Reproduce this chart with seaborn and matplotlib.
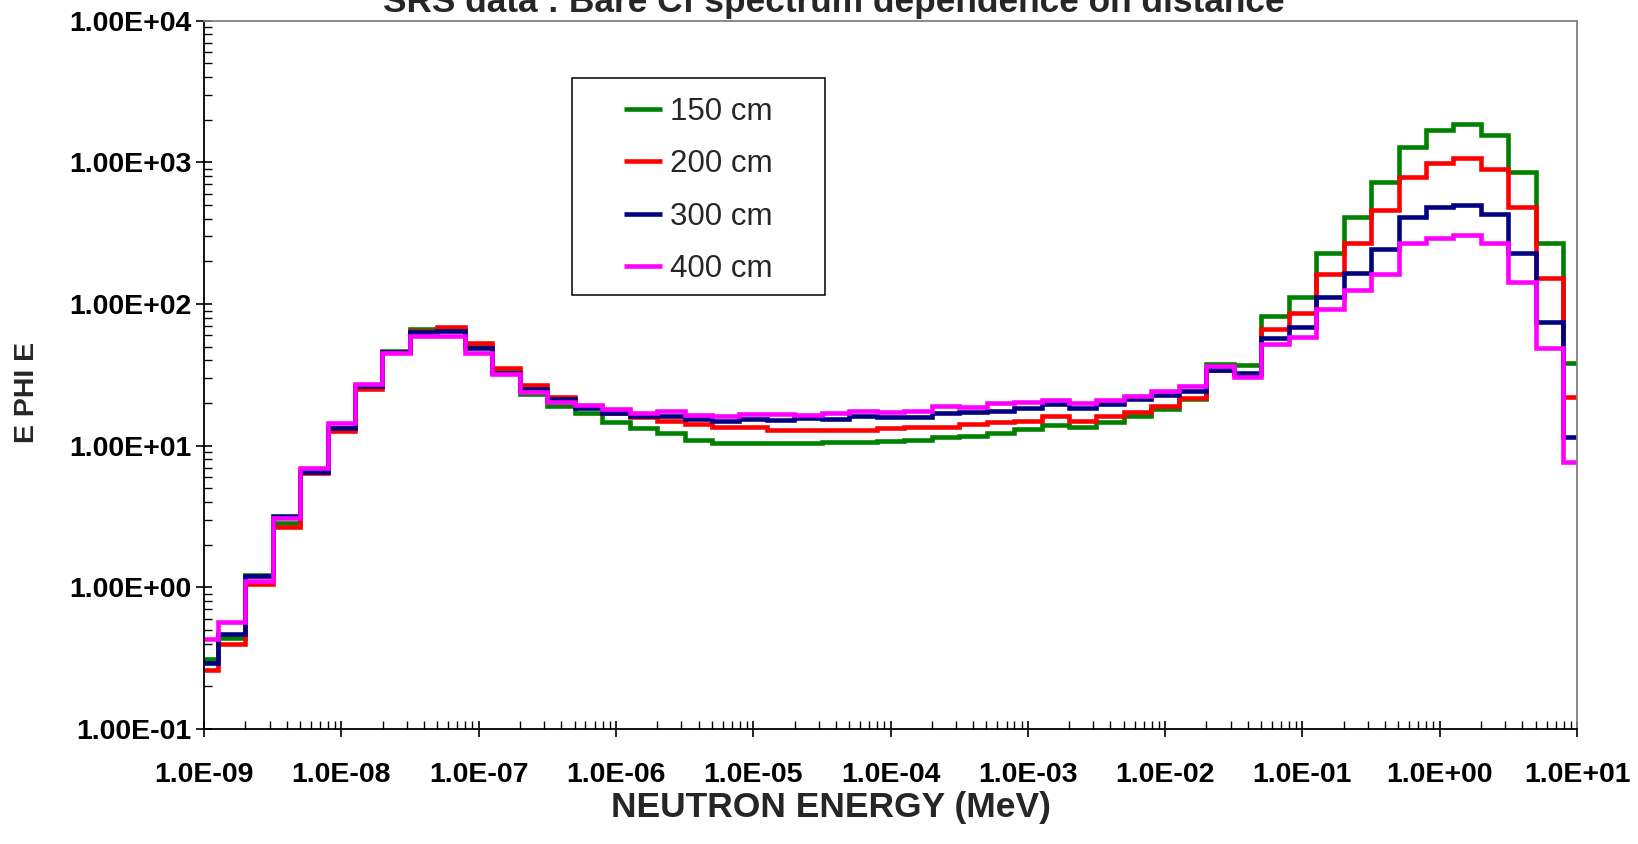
import numpy as np
import pandas as pd
import matplotlib
matplotlib.use("Agg")
import matplotlib.pyplot as plt
import seaborn as sns
from matplotlib.ticker import LogLocator, FuncFormatter, NullFormatter
from matplotlib.patches import Rectangle

# ---------------- data ----------------
distances = ["150 cm", "200 cm", "300 cm", "400 cm"]
colors = ["#008000", "#FF0000", "#000080", "#FF00FF"]

# energy group centres, log10(MeV), groups are 0.2 decade wide
log_energy_centres = np.round(np.arange(-9.0, 1.0001, 0.2), 1)

ephi_150 = [0.31, 0.44, 1.23, 2.83, 6.5, 13.4, 26.5, 46.9, 66.6, 66.0,
            50.6, 33.6, 23.1, 19.1, 16.9, 14.8, 13.3, 12.2, 11.0, 10.4,
            10.4, 10.4, 10.4, 10.7, 10.6, 10.8, 11.0, 11.6, 11.7, 12.2,
            13.1, 14.0, 13.6, 14.8, 16.2, 18.2, 21.3, 37.7, 37.2, 82.2,
            112.6, 231, 409, 730, 1276, 1690, 1863, 1560, 849, 268, 38.5]
ephi_200 = [0.26, 0.40, 1.05, 2.65, 6.4, 12.6, 25.2, 45.5, 65.0, 69.2,
            53.3, 35.3, 26.8, 22.2, 19.0, 17.0, 16.0, 15.0, 14.2, 13.6,
            13.6, 12.9, 12.9, 13.0, 13.0, 13.3, 13.5, 13.5, 14.2, 14.6,
            14.9, 16.3, 15.0, 16.2, 17.3, 19.1, 21.8, 34.0, 32.0, 66.2,
            85.9, 162, 268, 460, 792, 993, 1077, 897, 481, 152, 22.2]
ephi_300 = [0.29, 0.47, 1.20, 3.2, 6.5, 13.4, 26.5, 46.0, 63.8, 64.0,
            49.0, 32.7, 25.1, 21.5, 18.4, 16.9, 16.2, 16.2, 15.4, 14.9,
            15.4, 15.2, 15.6, 15.4, 16.3, 15.9, 16.0, 17.1, 17.4, 17.6,
            18.5, 19.7, 18.5, 19.7, 21.3, 22.7, 24.4, 34.2, 32.7, 57.2,
            68.5, 113, 165, 244, 413, 481, 500, 430, 228, 75, 11.5]
ephi_400 = [0.43, 0.57, 1.11, 3.1, 7.0, 14.4, 27.1, 44.9, 59.4, 59.4,
            45.3, 31.9, 24.0, 20.4, 19.4, 18.1, 17.1, 17.7, 16.5, 16.2,
            16.7, 16.6, 16.5, 16.9, 17.7, 17.3, 17.7, 19.1, 18.8, 19.9,
            20.2, 21.0, 19.9, 21.0, 22.4, 24.3, 26.5, 36.5, 30.7, 52.2,
            58.2, 92, 125.6, 163, 271, 291, 305, 271, 143.6, 48.6, 7.7]
series = [ephi_150, ephi_200, ephi_300, ephi_400]

x_ticks = [1e-9, 1e-8, 1e-7, 1e-6, 1e-5, 1e-4, 1e-3, 1e-2, 1e-1, 1e0, 1e1]
y_ticks = [1e-1, 1e0, 1e1, 1e2, 1e3, 1e4]

title = "SRS data : Bare Cf spectrum dependence on distance"
x_label = "NEUTRON ENERGY (MeV)"
y_label = "E PHI E"

# ---------------- table for seaborn (group edges, step-post) ----------------
x_min, x_max = x_ticks[0], x_ticks[-1]
lo = np.clip(10 ** (log_energy_centres - 0.1), x_min, x_max)
hi = np.clip(10 ** (log_energy_centres + 0.1), x_min, x_max)
frames = []
for name, vals in zip(distances, series):
    v = np.asarray(vals, dtype=float)
    frames.append(pd.DataFrame({
        "energy": np.append(lo, hi[-1]),
        "ephi": np.append(v, v[-1]),
        "distance": name,
    }))
df = pd.concat(frames, ignore_index=True)

# ---------------- style ----------------
sns.set_theme(style="white")
plt.rcParams["font.family"] = ["Liberation Sans", "DejaVu Sans"]
plt.rcParams["font.weight"] = "bold"

W, H = 1638, 844
fig = plt.figure(figsize=(W / 100, H / 100), dpi=100)
L, R, T, B = 204, 1577, 20.7, 729
ax = fig.add_axes([L / W, 1 - B / H, (R - L) / W, (B - T) / H])

sns.lineplot(data=df, x="energy", y="ephi", hue="distance", hue_order=distances,
             palette=dict(zip(distances, colors)), estimator=None, sort=False,
             drawstyle="steps-post", linewidth=3.3, legend=False, ax=ax,
             solid_joinstyle="miter", solid_capstyle="butt")

ax.set_xscale("log")
ax.set_yscale("log")
ax.set_xlim(x_min, x_max)
ax.set_ylim(y_ticks[0], y_ticks[-1])

ax.xaxis.set_major_locator(LogLocator(base=10, numticks=30))
ax.xaxis.set_minor_locator(LogLocator(base=10, subs=np.arange(2, 10), numticks=30))
ax.yaxis.set_major_locator(LogLocator(base=10, numticks=30))
ax.yaxis.set_minor_locator(LogLocator(base=10, subs=np.arange(2, 10), numticks=30))
ax.xaxis.set_major_formatter(FuncFormatter(lambda v, p: f"{v:.1E}"))
ax.yaxis.set_major_formatter(FuncFormatter(lambda v, p: f"{v:.2E}"))
ax.xaxis.set_minor_formatter(NullFormatter())
ax.yaxis.set_minor_formatter(NullFormatter())

ax.tick_params(which="both", bottom=True, left=True, top=False, right=False, colors="black")
ax.tick_params(which="major", direction="inout", length=12, width=1.2, labelsize=20.5)
ax.tick_params(which="minor", direction="in", length=5.5, width=1)
ax.tick_params(axis="x", which="major", pad=18)
ax.tick_params(axis="y", which="major", pad=3)

for side in ["left", "bottom"]:
    ax.spines[side].set_color("black")
    ax.spines[side].set_linewidth(1.3)
for side in ["top", "right"]:
    ax.spines[side].set_color("#808080")
    ax.spines[side].set_linewidth(1.3)

ax.set_xlabel(x_label, fontsize=25.5, fontweight="bold", va="center")
ax.xaxis.set_label_coords((831 - L) / (R - L), -(808 - B) / (B - T))
ax.set_ylabel(y_label, fontsize=20.5, fontweight="bold", va="center")
ax.yaxis.set_label_coords((27 - L) / (R - L), (B - 392) / (B - T))

fig.text(834 / W, 1 - 12 / H, title, ha="center", va="baseline",
         fontsize=25.4, fontweight="bold")

# legend
handles = ax.get_lines()[:4]
box = (572, 78, 825, 295)  # legend frame in pixels (l, t, r, b)
leg = ax.legend(handles, distances, loc="center",
                bbox_to_anchor=((box[0] + box[2]) / 2 / W,
                                1 - ((box[1] + box[3]) / 2 + 4) / H),
                bbox_transform=fig.transFigure, frameon=False,
                prop={"size": 22.5, "weight": "normal"},
                handlelength=1.2, handletextpad=0.26, labelspacing=0.72, borderpad=0.3)
fig.add_artist(Rectangle((box[0] / W, 1 - box[3] / H), (box[2] - box[0]) / W,
                         (box[3] - box[1]) / H, transform=fig.transFigure,
                         fill=False, ec="black", lw=1.1))

fig.savefig("out.png", dpi=100)
